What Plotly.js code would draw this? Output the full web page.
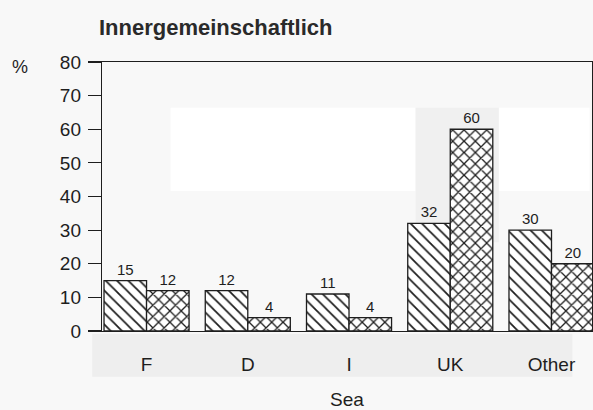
<!DOCTYPE html>
<html>
<head>
<meta charset="utf-8">
<script src="https://cdn.plot.ly/plotly-3.0.1.min.js"></script>
<style>
  html, body { margin: 0; padding: 0; background: #f8f8f8; }
  #chart { width: 593px; height: 410px; }
</style>
</head>
<body>
<div id="chart"></div>
<script>
const categories = ['F', 'D', 'I', 'UK', 'Other'];
const seriesHatched = [15, 12, 11, 32, 30];
const seriesCross = [12, 4, 4, 60, 20];
const yTickValues = [0, 10, 20, 30, 40, 50, 60, 70, 80];
const chartTitle = 'Innergemeinschaftlich';
const xTitle = 'Sea';
const yUnit = '%';

const FONT = 'Liberation Sans, Arial, sans-serif';
const INK = '#1e1e1e';

const common = {
  type: 'bar',
  x: categories,
  textposition: 'outside',
  texttemplate: '%{y}',
  textfont: { family: FONT, size: 15, color: INK },
  constraintext: 'none',
  cliponaxis: false,
  hoverinfo: 'none'
};

const traces = [
  Object.assign({}, common, {
    y: seriesHatched,
    marker: {
      color: 'white',
      line: { color: INK, width: 1.3 },
      pattern: { shape: '\\', size: 8, solidity: 0.22, fgcolor: INK, bgcolor: 'white', fillmode: 'replace' }
    }
  }),
  Object.assign({}, common, {
    y: seriesCross,
    marker: {
      color: 'white',
      line: { color: INK, width: 1.3 },
      pattern: { shape: 'x', size: 8, solidity: 0.3, fgcolor: INK, bgcolor: 'white', fillmode: 'replace' }
    }
  })
];

const layout = {
  width: 593,
  height: 410,
  margin: { l: 102, r: 1, t: 62, b: 79 },
  paper_bgcolor: '#f8f8f8',
  plot_bgcolor: 'rgba(0,0,0,0)',
  showlegend: false,
  barmode: 'group',
  bargap: 0.16,
  bargroupgap: 0,
  font: { family: FONT, color: INK },
  title: {
    text: '<b>' + chartTitle + '</b>',
    font: { family: FONT, size: 22, color: '#2a2a2a' },
    x: 99 / 593, xref: 'container', xanchor: 'left',
    y: 1 - 27 / 410, yref: 'container', yanchor: 'middle'
  },
  xaxis: {
    type: 'category',
    range: [-0.44, 4.40],
    showline: true, mirror: true, linecolor: INK, linewidth: 1.2,
    ticks: '', showgrid: false, zeroline: false,
    tickfont: { family: FONT, size: 19, color: INK },
    ticklabelstandoff: 16,
    title: { text: xTitle, font: { family: FONT, size: 19, color: INK }, standoff: 18 }
  },
  yaxis: {
    range: [0, 80],
    tickvals: yTickValues,
    showline: true, mirror: true, linecolor: INK, linewidth: 1.2,
    ticks: 'outside', ticklen: 13, tickcolor: INK, tickwidth: 1.2,
    showgrid: false, zeroline: false,
    tickfont: { family: FONT, size: 19, color: INK },
    ticklabelstandoff: 3
  },
  shapes: [
    { type: 'rect', xref: 'paper', yref: 'paper', layer: 'below',
      x0: -0.02, x1: 0.96, y0: -0.17, y1: -0.01, fillcolor: '#eeeeee', line: { width: 0 } },
    { type: 'rect', xref: 'paper', yref: 'paper', layer: 'below',
      x0: 0.14, x1: 0.64, y0: 0.52, y1: 0.83, fillcolor: '#ffffff', line: { width: 0 } },
    { type: 'rect', xref: 'paper', yref: 'paper', layer: 'below',
      x0: 0.64, x1: 0.81, y0: 0.33, y1: 0.83, fillcolor: '#f0f0f0', line: { width: 0 } },
    { type: 'rect', xref: 'paper', yref: 'paper', layer: 'below',
      x0: 0.81, x1: 0.995, y0: 0.52, y1: 0.83, fillcolor: '#ffffff', line: { width: 0 } }
  ],
  annotations: [
    { text: yUnit, xref: 'paper', yref: 'paper', x: -82 / 490, y: 1 - 5 / 269,
      xanchor: 'center', yanchor: 'middle', showarrow: false,
      font: { family: FONT, size: 18, color: INK } }
  ]
};

Plotly.newPlot('chart', traces, layout, { displayModeBar: false, staticPlot: true });
</script>
</body>
</html>
